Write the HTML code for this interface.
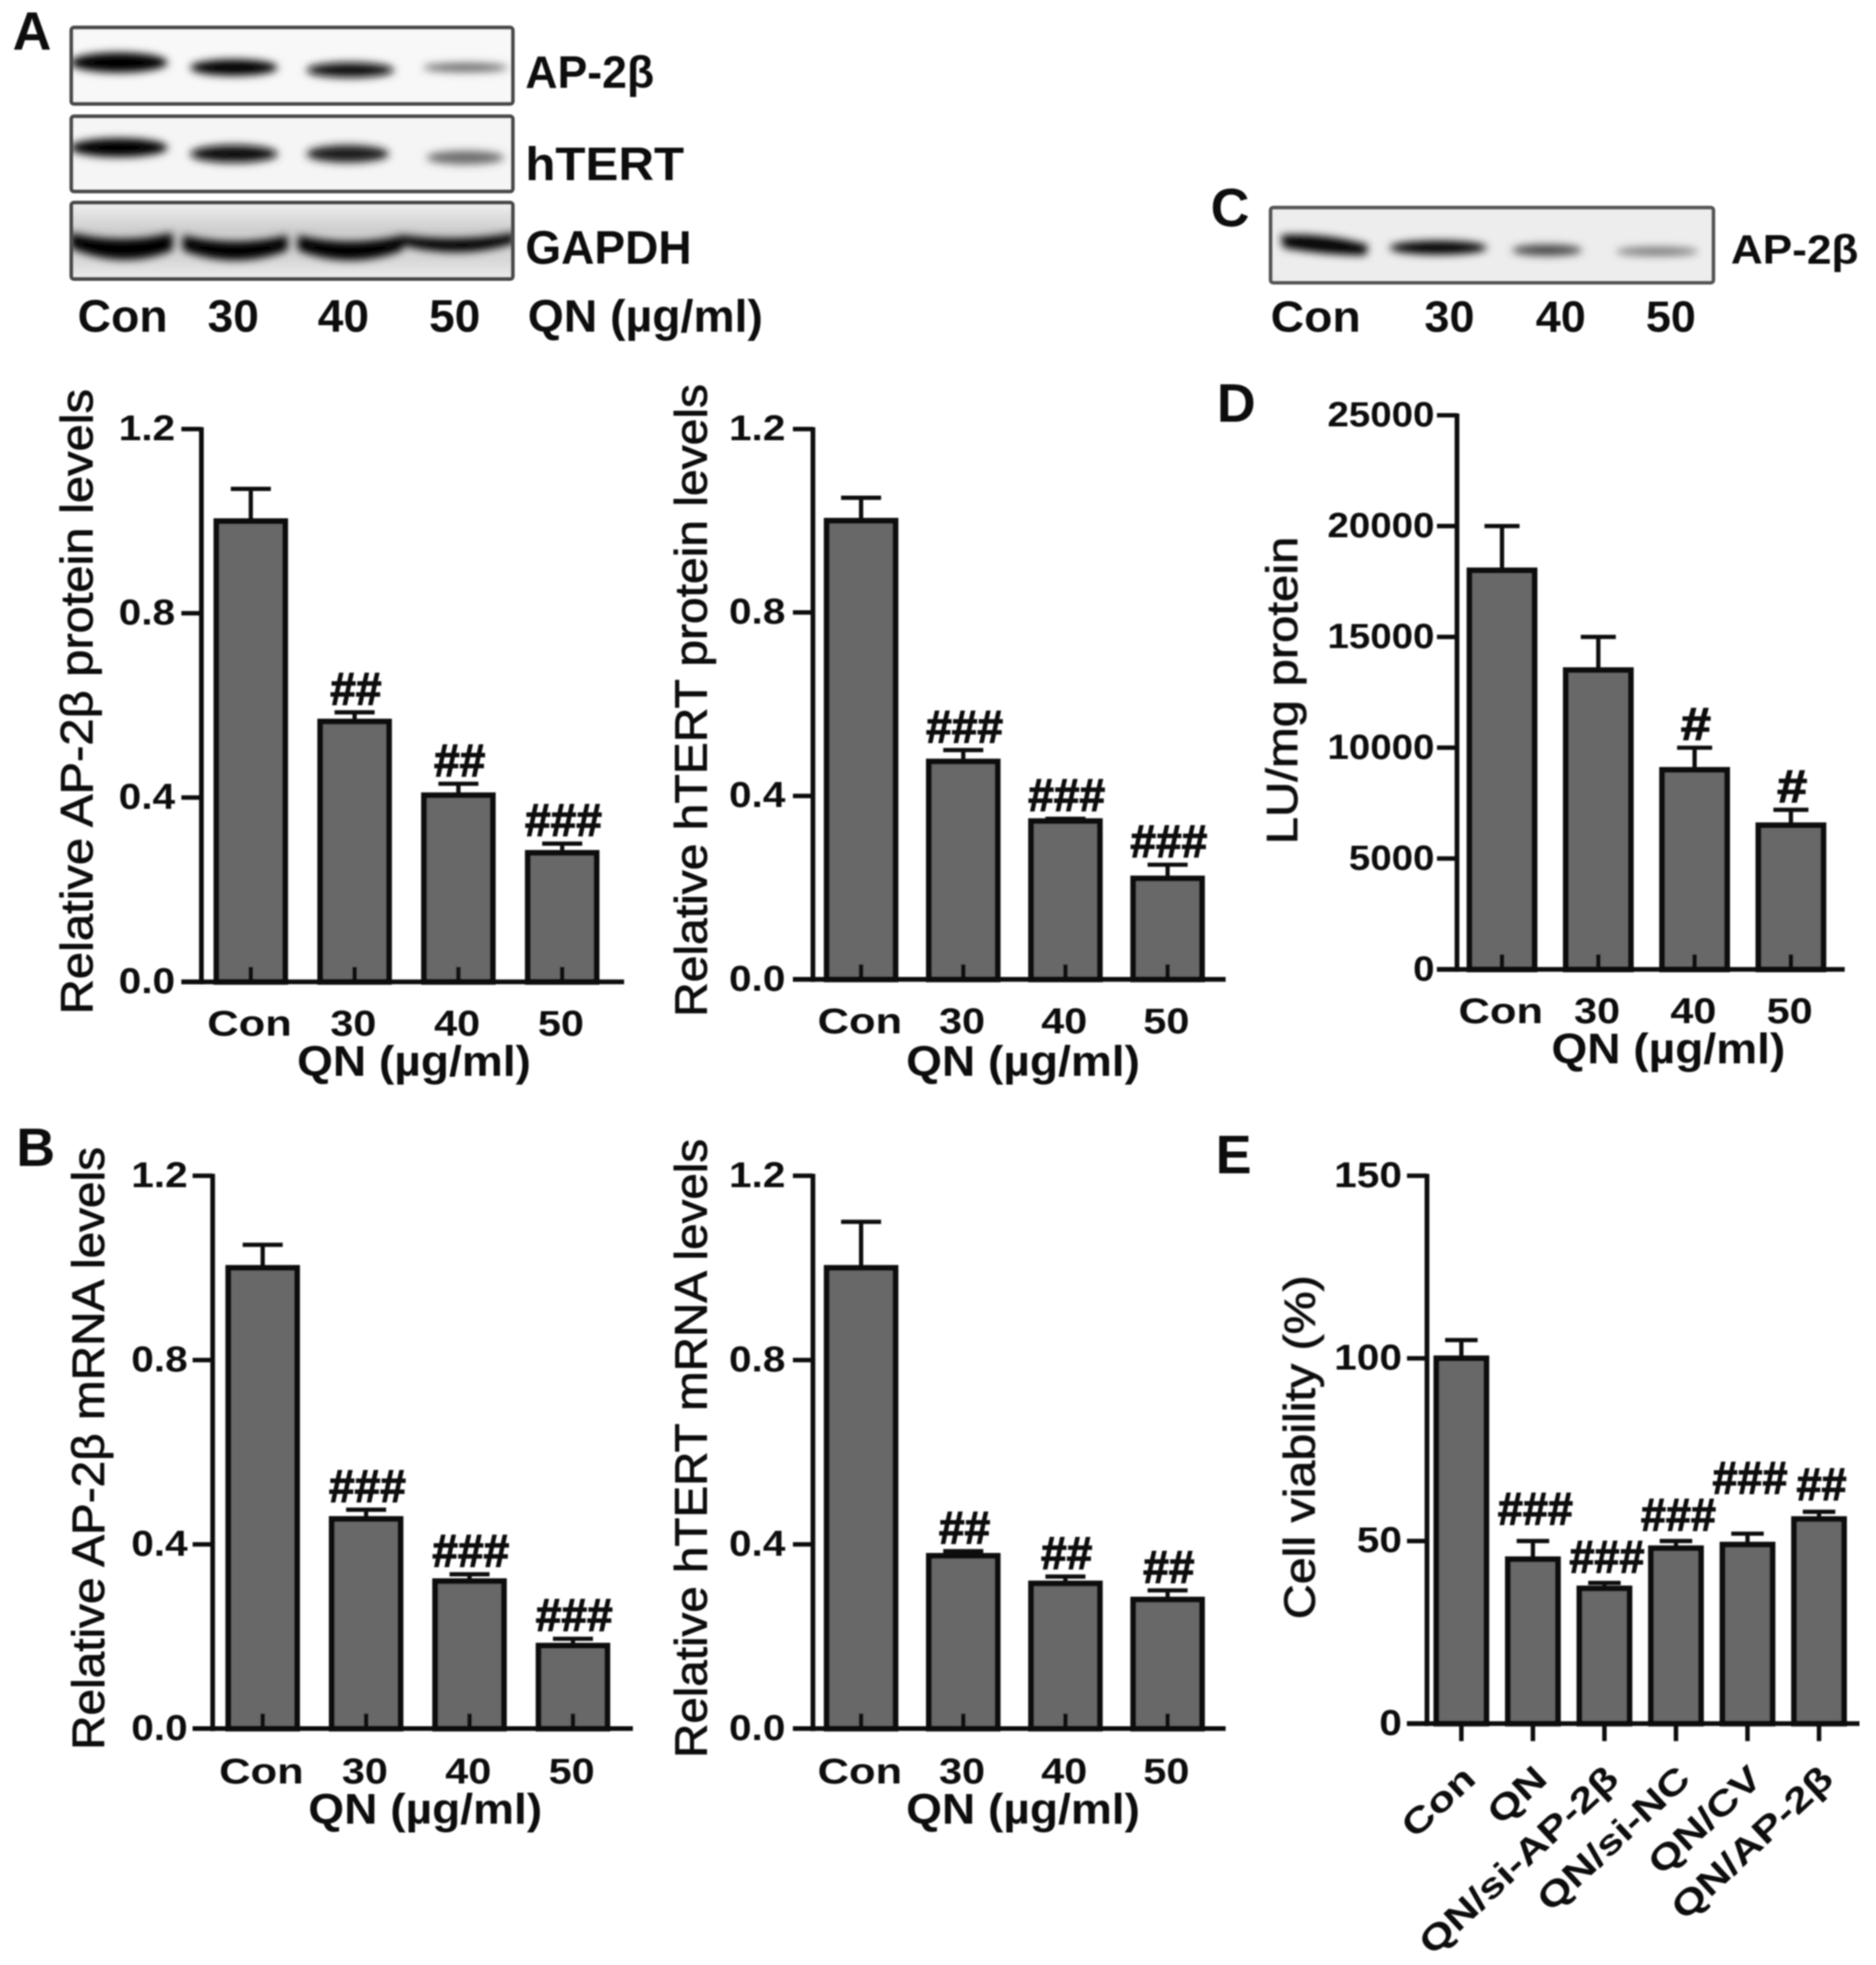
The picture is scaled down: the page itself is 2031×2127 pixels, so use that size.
<!DOCTYPE html>
<html>
<head>
<meta charset="utf-8">
<title>Multi-panel figure</title>
<style>
html,body{margin:0;padding:0;background:#fff;width:2031px;height:2127px;overflow:hidden}
svg{display:block}
text{font-family:"Liberation Sans",sans-serif;fill:#111}
.b{font-weight:700}
</style>
</head>
<body>
<svg id="figure" xmlns="http://www.w3.org/2000/svg" width="2031" height="2127" viewBox="0 0 1500 1571">
<defs>
<filter id="bandBlur" x="-30%" y="-80%" width="160%" height="260%"><feGaussianBlur stdDeviation="3.4"/></filter>
<filter id="soft" x="0" y="0" width="100%" height="100%"><feGaussianBlur stdDeviation="0.6"/></filter>
<linearGradient id="gapdhBg" x1="0" y1="0" x2="0" y2="1"><stop offset="0" stop-color="#f0f0f0"/><stop offset="0.35" stop-color="#cfcfcf"/><stop offset="0.75" stop-color="#d8d8d8"/><stop offset="1" stop-color="#ececec"/></linearGradient>
<clipPath id="clipA1"><rect x="57" y="22" width="353" height="61"/></clipPath>
<clipPath id="clipA2"><rect x="57" y="93" width="353" height="60"/></clipPath>
<clipPath id="clipA3"><rect x="57" y="162" width="353" height="61"/></clipPath>
<clipPath id="clipC"><rect x="1016" y="166" width="354" height="60"/></clipPath>
</defs>
<g id="root" filter="url(#soft)">
<g>
  <g>
    <rect x="57" y="22" width="353" height="61" fill="#f8f8f8"/>
    <g clip-path="url(#clipA1)" filter="url(#bandBlur)">
      <ellipse cx="95" cy="50" rx="39" ry="8" fill="#000"/>
      <ellipse cx="187" cy="54" rx="35" ry="6.5" fill="#000"/>
      <ellipse cx="280" cy="56" rx="35" ry="6" fill="#111"/>
      <ellipse cx="372" cy="54" rx="34" ry="3.5" fill="#666"/>
    </g>
    <rect x="57" y="22" width="353" height="61" fill="none" stroke="#4a4a4a" stroke-width="3" rx="2"/>
  </g>
  <g>
    <rect x="57" y="93" width="353" height="60" fill="#f5f5f5"/>
    <g clip-path="url(#clipA2)" filter="url(#bandBlur)">
      <ellipse cx="95" cy="118" rx="39" ry="7.5" fill="#000"/>
      <ellipse cx="187" cy="123" rx="35" ry="7" fill="#111"/>
      <ellipse cx="278" cy="123" rx="33" ry="7" fill="#1c1c1c"/>
      <ellipse cx="372" cy="126" rx="31" ry="5.5" fill="#6c6c6c"/>
    </g>
    <rect x="57" y="93" width="353" height="60" fill="none" stroke="#4a4a4a" stroke-width="3" rx="2"/>
  </g>
  <g>
    <rect x="57" y="162" width="353" height="61" fill="url(#gapdhBg)"/>
    <g clip-path="url(#clipA3)" filter="url(#bandBlur)" fill="#000">
      <path d="M56 186 Q98 196 138 186 L138 200 Q98 216 56 198 Z"/>
      <path d="M146 188 Q188 198 230 188 L230 200 Q188 216 146 200 Z"/>
      <path d="M238 188 Q280 198 322 188 L322 200 Q280 216 238 200 Z"/>
      <path d="M322 188 Q368 194 412 186 L412 194 Q368 208 322 196 Z"/>
    </g>
    <rect x="57" y="162" width="353" height="61" fill="none" stroke="#4a4a4a" stroke-width="3" rx="2"/>
  </g>
  <g>
    <rect x="1016" y="166" width="354" height="60" fill="#ededed"/>
    <g clip-path="url(#clipC)" filter="url(#bandBlur)">
      <path d="M1024 188 Q1060 186 1094 196 L1092 204 Q1060 204 1026 198 Z" fill="#000"/>
      <ellipse cx="1150" cy="198" rx="39" ry="5.5" fill="#000"/>
      <ellipse cx="1237" cy="200" rx="28" ry="4.5" fill="#444"/>
      <ellipse cx="1325" cy="201" rx="33" ry="3.5" fill="#777"/>
    </g>
    <rect x="1016" y="166" width="354" height="60" fill="none" stroke="#555" stroke-width="3" rx="2"/>
  </g>
</g>
<g>
  <text class="b" x="10" y="40" font-size="43">A</text>
  <text class="b" x="13" y="932" font-size="43">B</text>
  <text class="b" x="968" y="181" font-size="43">C</text>
  <text class="b" x="973" y="337" font-size="43">D</text>
  <text class="b" x="972" y="938" font-size="43">E</text>
</g>
<g>
  <text class="b" x="420" y="70" font-size="36" textLength="103" lengthAdjust="spacingAndGlyphs">AP-2β</text>
  <text class="b" x="420" y="144" font-size="38" textLength="127" lengthAdjust="spacingAndGlyphs">hTERT</text>
  <text class="b" x="420" y="211" font-size="38" textLength="133" lengthAdjust="spacingAndGlyphs">GAPDH</text>
  <text class="b" x="62" y="265" font-size="36" textLength="72" lengthAdjust="spacingAndGlyphs">Con</text>
  <text class="b" x="166" y="265" font-size="36" textLength="41" lengthAdjust="spacingAndGlyphs">30</text>
  <text class="b" x="254" y="265" font-size="36" textLength="41" lengthAdjust="spacingAndGlyphs">40</text>
  <text class="b" x="343" y="265" font-size="36" textLength="41" lengthAdjust="spacingAndGlyphs">50</text>
  <text class="b" x="422" y="265" font-size="36" textLength="188" lengthAdjust="spacingAndGlyphs">QN (µg/ml)</text>
  <text class="b" x="1384" y="211" font-size="33" textLength="102" lengthAdjust="spacingAndGlyphs">AP-2β</text>
  <text class="b" x="1016" y="265" font-size="35" textLength="72" lengthAdjust="spacingAndGlyphs">Con</text>
  <text class="b" x="1139" y="265" font-size="35" textLength="40" lengthAdjust="spacingAndGlyphs">30</text>
  <text class="b" x="1228" y="265" font-size="35" textLength="40" lengthAdjust="spacingAndGlyphs">40</text>
  <text class="b" x="1316" y="265" font-size="35" textLength="40" lengthAdjust="spacingAndGlyphs">50</text>
</g>
<g id="charts" transform="translate(2 2)"></g>
</g>
</svg>
<script>
// ---- shared categories and tick labels ----
const doseCategories = ["Con", "30", "40", "50"];
const treatmentCategories = ["Con", "QN", "QN/si-AP-2β", "QN/si-NC", "QN/CV", "QN/AP-2β"];
const relativeTicks = [0, 0.4, 0.8, 1.2];
const relativeTickLabels = ["0.0", "0.4", "0.8", "1.2"];
const luTicks = [0, 5000, 10000, 15000, 20000, 25000];
const luTickLabels = ["0", "5000", "10000", "15000", "20000", "25000"];
const viabilityTicks = [0, 50, 100, 150];
const viabilityTickLabels = ["0", "50", "100", "150"];

// ---- series values (mean, top of error bar, significance mark) ----
const ap2bProteinValues = [1.0, 0.565, 0.405, 0.28];
const ap2bProteinErrorTops = [1.07, 0.585, 0.43, 0.3];
const ap2bProteinMarks = ["", "##", "##", "###"];

const htertProteinValues = [1.0, 0.475, 0.345, 0.22];
const htertProteinErrorTops = [1.05, 0.5, 0.35, 0.25];
const htertProteinMarks = ["", "###", "###", "###"];

const ap2bMrnaValues = [1.0, 0.455, 0.32, 0.18];
const ap2bMrnaErrorTops = [1.05, 0.475, 0.335, 0.195];
const ap2bMrnaMarks = ["", "###", "###", "###"];

const htertMrnaValues = [1.0, 0.375, 0.315, 0.28];
const htertMrnaErrorTops = [1.1, 0.385, 0.33, 0.3];
const htertMrnaMarks = ["", "##", "##", "##"];

const luciferaseValues = [18000, 13500, 9000, 6500];
const luciferaseErrorTops = [20000, 15000, 10000, 7200];
const luciferaseMarks = ["", "", "#", "#"];

const viabilityValues = [100, 45, 37, 48, 49, 56];
const viabilityErrorTops = [105, 50, 38.5, 50, 52, 58];
const viabilityMarks = ["", "###", "###", "###", "###", "##"];

const SVGNS = "http://www.w3.org/2000/svg";
const chartsRoot = document.getElementById("charts");

function shape(parent, tag, attrs) {
  const el = document.createElementNS(SVGNS, tag);
  for (const k in attrs) el.setAttribute(k, attrs[k]);
  parent.appendChild(el);
  return el;
}
function label(parent, str, x, y, size, opts) {
  const o = opts || {};
  const t = shape(parent, "text", {x: x, y: y, "font-size": size, "text-anchor": o.anchor || "middle"});
  if (o.bold !== false) t.setAttribute("font-weight", "700");
  if (o.stroke) { t.setAttribute("stroke", "#111"); t.setAttribute("stroke-width", o.stroke); }
  if (o.rotate !== undefined) t.setAttribute("transform", "rotate(" + o.rotate + " " + x + " " + y + ")");
  t.textContent = str;
  parent.appendChild(t);
  if (o.length) {
    t.setAttribute("textLength", o.length);
    t.setAttribute("lengthAdjust", "spacingAndGlyphs");
  } else if (o.stretch) {
    t.setAttribute("textLength", (t.getComputedTextLength() * o.stretch).toFixed(1));
    t.setAttribute("lengthAdjust", "spacingAndGlyphs");
  }
  return t;
}

function drawBarChart(cfg) {
  const g = shape(chartsRoot, "g", {});
  
  

  const yScale = v => cfg.y0 - (v / cfg.yMax) * (cfg.y0 - cfg.yTop);
  const xScale = i => cfg.xStart + i * cfg.xStep;

  // bars, error bars, marks
  cfg.values.forEach((v, i) => {
    const cx = xScale(i);
    const top = yScale(v);
    const errTop = yScale(cfg.errorTops[i]);

    const stem = shape(g, "line", {x1: cx, x2: cx, y1: top, y2: errTop, stroke: "#111", "stroke-width": 3.4});
    
    

    const cap = shape(g, "line", {x1: cx - cfg.capHalf, x2: cx + cfg.capHalf, y1: errTop, y2: errTop, stroke: "#111", "stroke-width": 3.4});
    
    

    const bar = shape(g, "rect", {x: cx - cfg.barW / 2, y: top, width: cfg.barW, height: cfg.y0 - top, fill: "#686868", stroke: "#0c0c0c", "stroke-width": 4.6});
    
    

    if (cfg.marks[i]) {
      const gap = cfg.markGaps ? cfg.markGaps[i] : 6;
      const w = cfg.marks[i].length * (cfg.markW || 20.5);
      const mark = label(g, cfg.marks[i], cx + (cfg.markDx || 1), errTop - gap, 37, {length: w, bold: true, stroke: 0.9});
      
      
    }

    // x ticks
    const tick = shape(g, "line", {x1: cx, x2: cx, y1: cfg.y0, y2: cfg.tickUp ? cfg.y0 - 12 : cfg.y0 + 14, stroke: "#111", "stroke-width": 3.6});
    
    
  });

  // axes
  const yAxis = shape(g, "line", {x1: cfg.axisX, x2: cfg.axisX, y1: cfg.yTop - 1.5, y2: cfg.y0 + 2, stroke: "#111", "stroke-width": 3.8});
  
  

  const xAxis = shape(g, "line", {x1: cfg.axisX - 16, x2: cfg.xEnd, y1: cfg.y0, y2: cfg.y0, stroke: "#111", "stroke-width": 3.8});
  
  

  // y ticks and labels
  cfg.ticks.forEach((t, i) => {
    const y = yScale(t);
    const tk = shape(g, "line", {x1: cfg.axisX - 16, x2: cfg.axisX, y1: y, y2: y, stroke: "#111", "stroke-width": 3.6});
    
    

    const tl = label(g, cfg.tickLabels[i], cfg.tickLabelX - 2, y + cfg.tickDy - 1, cfg.tickSize, {anchor: "end", stretch: cfg.tickStretch});
    
    
  });

  // x labels
  cfg.categories.forEach((c, i) => {
    const cx = xScale(i);
    let xl;
    if (cfg.rotated) {
      xl = label(g, c, cx + 13, cfg.y0 + 46, 28, {anchor: "end", rotate: -43, stretch: 1.26});
    } else {
      xl = label(g, c, cx - 1, cfg.xLabelY - 1, 29, {stretch: i === 0 ? 1.2 : 1.14});
    }
    
    
  });

  // x title
  if (cfg.xTitle) {
    const xt = label(g, cfg.xTitle, cfg.xTitleX - 1, cfg.xTitleY - 2, 34, {length: 187});
    
    
  }

  // y title
  const yt = label(g, cfg.yTitle, cfg.yTitleX - 3, cfg.yTitleY, cfg.yTitleSize, {bold: false, stroke: 0.6, rotate: -90, length: cfg.yTitleLen});
  
  
}

drawBarChart({name: "ap2b-protein-chart", categories: doseCategories, values: ap2bProteinValues, errorTops: ap2bProteinErrorTops, marks: ap2bProteinMarks,
  ticks: relativeTicks, tickLabels: relativeTickLabels, yMax: 1.2, axisX: 159, yTop: 341, y0: 783, xEnd: 497, xStart: 198.5, xStep: 83, barW: 55, capHalf: 16,
  tickUp: true, tickLabelX: 140, tickDy: 10, tickSize: 29, tickStretch: 1.12, xLabelY: 827, xTitle: "QN (µg/ml)", xTitleX: 330, xTitleY: 860,
  yTitle: "Relative AP-2β protein levels", yTitleX: 75, yTitleY: 559, yTitleSize: 36, yTitleLen: 500});

drawBarChart({name: "htert-protein-chart", categories: doseCategories, values: htertProteinValues, errorTops: htertProteinErrorTops, marks: htertProteinMarks,
  ticks: relativeTicks, tickLabels: relativeTickLabels, yMax: 1.2, axisX: 648, yTop: 341, y0: 781, xEnd: 978, xStart: 686.5, xStep: 81.7, barW: 55, capHalf: 16,
  tickUp: true, tickLabelX: 628, tickDy: 10, tickSize: 29, tickStretch: 1.12, xLabelY: 825, xTitle: "QN (µg/ml)", xTitleX: 817, xTitleY: 860,
  yTitle: "Relative hTERT protein levels", yTitleX: 566, yTitleY: 558, yTitleSize: 36, yTitleLen: 506});

drawBarChart({name: "ap2b-mrna-chart", categories: doseCategories, values: ap2bMrnaValues, errorTops: ap2bMrnaErrorTops, marks: ap2bMrnaMarks,
  ticks: relativeTicks, tickLabels: relativeTickLabels, yMax: 1.2, axisX: 168, yTop: 938, y0: 1380, xEnd: 504, xStart: 208, xStep: 82.7, barW: 55, capHalf: 16,
  tickUp: true, tickLabelX: 150, tickDy: 10, tickSize: 29, tickStretch: 1.12, xLabelY: 1425, xTitle: "QN (µg/ml)", xTitleX: 339, xTitleY: 1458,
  yTitle: "Relative AP-2β mRNA levels", yTitleX: 84, yTitleY: 1156, yTitleSize: 36, yTitleLen: 482});

drawBarChart({name: "htert-mrna-chart", categories: doseCategories, values: htertMrnaValues, errorTops: htertMrnaErrorTops, marks: htertMrnaMarks,
  ticks: relativeTicks, tickLabels: relativeTickLabels, yMax: 1.2, axisX: 648, yTop: 938, y0: 1380, xEnd: 978, xStart: 686.5, xStep: 81.7, barW: 55, capHalf: 16,
  tickUp: true, tickLabelX: 628, tickDy: 10, tickSize: 29, tickStretch: 1.12, xLabelY: 1425, xTitle: "QN (µg/ml)", xTitleX: 817, xTitleY: 1458,
  yTitle: "Relative hTERT mRNA levels", yTitleX: 566, yTitleY: 1156, yTitleSize: 36, yTitleLen: 495});

drawBarChart({name: "luciferase-chart", categories: doseCategories, values: luciferaseValues, errorTops: luciferaseErrorTops, marks: luciferaseMarks,
  ticks: luTicks, tickLabels: luTickLabels, yMax: 25000, axisX: 1163, yTop: 330, y0: 773, xEnd: 1473, xStart: 1199, xStep: 77, barW: 52, capHalf: 14,
  tickUp: true, tickLabelX: 1147, tickDy: 10, tickSize: 28, tickStretch: 1.1, xLabelY: 817, xTitle: "QN (µg/ml)", xTitleX: 1333, xTitleY: 850,
  yTitle: "LU/mg protein", yTitleX: 1038, yTitleY: 550, yTitleSize: 35, yTitleLen: 246, markW: 24, markDx: 1});

drawBarChart({name: "cell-viability-chart", categories: treatmentCategories, values: viabilityValues, errorTops: viabilityErrorTops, marks: viabilityMarks,
  ticks: viabilityTicks, tickLabels: viabilityTickLabels, yMax: 150, axisX: 1139, yTop: 938, y0: 1376, xEnd: 1485, xStart: 1166.5, xStep: 57.2, barW: 40, capHalf: 13,
  tickUp: false, rotated: true, tickLabelX: 1121, tickDy: 10, tickSize: 29, tickStretch: 1.12,
  markGaps: [0, 13, 8, 8, 32, 9], markW: 20, markDx: 2,
  yTitle: "Cell viability (%)", yTitleX: 1052, yTitleY: 1155, yTitleSize: 35, yTitleLen: 275});
</script>
</body>
</html>
